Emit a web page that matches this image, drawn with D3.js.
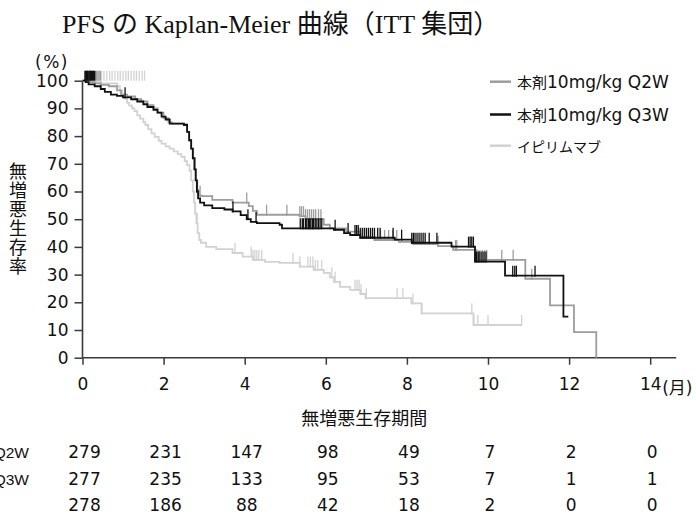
<!DOCTYPE html>
<html><head><meta charset="utf-8">
<script src="https://cdn.jsdelivr.net/npm/d3@7"></script>
<style>
html,body{margin:0;padding:0;background:#fff;}
svg{display:block;}
text{font-family:"DejaVu Sans","Noto Sans CJK JP",sans-serif;fill:#111;}
</style></head>
<body><svg id="c" width="696" height="519"></svg>
<script>
// ---------------- data ----------------
const titleParts = ["PFS ", "の", " Kaplan-Meier ", "曲線", "（", "ITT ", "集団", "）"];
const yLabel = "無増悪生存率";
const xLabel = "無増悪生存期間";
const yUnit = "(%)";
const xUnit = "(月)";
const seriesNames = ["本剤10mg/kg Q2W", "本剤10mg/kg Q3W", "イピリムマブ"];
const monthTicks = [0, 2, 4, 6, 8, 10, 12, 14];
const yTicks = [0, 10, 20, 30, 40, 50, 60, 70, 80, 90, 100];

// Kaplan-Meier steps [month, %]
const q2wCurve = [[0,100],[0.15,99.5],[0.3,99],[0.45,98.5],[0.65,98],[0.85,96.5],[0.95,95],[1.1,94.3],[1.3,93.3],[1.45,92.5],[1.6,91.2],[1.75,90],[1.85,88.5],[2.0,86.5],[2.12,85],[2.2,84.5],[2.5,84.3],[2.58,81.5],[2.63,78.5],[2.68,75.5],[2.73,72],[2.77,68],[2.8,64],[2.83,60.5],[2.87,58.5],[2.95,58.3],[3.2,57],[3.7,56],[4.1,54.7],[4.2,53],[4.3,51.6],[5.35,51.1],[5.5,50],[5.95,48],[6.1,46.7],[6.5,45.5],[6.85,43.5],[7.2,42.5],[7.8,41.8],[8.15,41],[8.77,40.3],[9.14,38.9],[9.7,35.3],[10.92,28.5],[11.53,18.9],[12.12,9.2],[12.67,0]];
const q3wCurve = [[0,100],[0.08,99.5],[0.15,98.7],[0.3,98],[0.45,97],[0.55,96],[0.7,95],[0.85,94.5],[1.0,94],[1.2,93.3],[1.35,92.5],[1.5,91.5],[1.6,90.5],[1.75,89.5],[1.85,88.5],[1.95,87],[2.05,86],[2.15,84.5],[2.5,84],[2.58,81.5],[2.63,78.5],[2.68,75.5],[2.72,72],[2.76,68],[2.79,64],[2.82,60],[2.85,57.5],[2.9,56],[3.0,55],[3.2,54],[3.5,53.5],[3.7,52.8],[3.9,51.5],[4.05,50],[4.15,49],[4.3,48.6],[4.86,48],[4.92,46.7],[6.2,46.2],[6.45,45],[6.6,44.3],[6.85,43.3],[7.7,42.6],[8.12,41.5],[9.1,40.1],[9.68,34.7],[10.42,29.6],[11.86,14.8],[11.98,14.8]];
const ipiCurve = [[0,100],[0.2,99.6],[0.46,99],[0.86,98],[0.92,96.5],[0.98,95],[1.04,93.5],[1.1,92],[1.15,91],[1.22,90],[1.28,89],[1.35,87.5],[1.42,86.3],[1.5,85],[1.55,84],[1.62,82.5],[1.7,81],[1.78,79.7],[1.88,78.3],[1.95,77.3],[2.05,76.3],[2.15,75.5],[2.25,74.5],[2.35,73.5],[2.44,72.5],[2.52,71],[2.58,69.5],[2.64,67.5],[2.68,64],[2.72,60],[2.75,56],[2.78,52],[2.81,48.5],[2.84,45],[2.88,42.5],[2.92,41.5],[3.05,40],[3.3,39.2],[3.7,37.8],[3.95,36.5],[4.2,35.3],[4.5,34.6],[4.86,34.2],[5.36,32.9],[5.7,31.7],[5.95,30.6],[6.1,29],[6.2,27.4],[6.35,25.6],[6.6,24.5],[6.85,23],[6.98,21.5],[8.11,19.6],[8.36,16],[9.64,11.8],[10.83,11.8]];

// censored observations (months), drawn on the curve
const q2wCensor = [2.9,4.05,4.54,5.04,5.36,5.4,5.45,5.5,5.55,5.6,5.65,5.7,5.75,5.82,5.88,7.35,7.45,7.55,7.65,7.75,8.77,9.2,9.23,9.7,9.75,9.8,9.86,9.92,9.97,10.34,10.62,11.08];
const q3wCensor = [1.05,2.82,3.71,4.08,4.28,5.37,5.42,5.45,5.5,5.53,5.57,5.6,5.63,5.67,5.7,5.74,5.78,5.82,5.86,5.9,6.23,6.55,6.72,6.76,6.8,6.85,6.9,6.95,7.0,7.05,7.1,7.15,7.2,7.28,7.34,7.66,7.87,8.12,8.16,8.2,8.25,8.3,8.35,8.4,8.45,8.55,8.74,9.52,9.56,9.6,9.64,9.68,9.72,9.76,9.8,9.85,9.9,9.95,10.61,10.66,10.7,11.16];
const ipiCensor = [2.78,2.83,3.76,4.16,4.2,4.25,4.3,4.35,4.42,5.19,5.36,5.56,5.62,5.68,5.74,5.8,5.9,6.15,6.23,6.72,6.77,6.82,6.87,7.0,7.76,7.9,8.15,8.37,9.6,9.65,9.75,10.0,10.83];
// censored observations drawn along the 100 % line
const q2wCensorTop = [0.32,0.35,0.38,0.41,0.44];
const q3wCensorTop = [0.06,0.08,0.1,0.12,0.14,0.16,0.18,0.2,0.22,0.25,0.27,0.3];
const ipiCensorTop = [0.47,0.53,0.6,0.67,0.73,0.8,0.87,0.93,1.0,1.07,1.13,1.2,1.27,1.33,1.4,1.47,1.53];

// numbers at risk
const riskQ2W = [279,231,147,98,49,7,2,0];
const riskQ3W = [277,235,133,95,53,7,1,1];
const riskIpi = [278,186,88,42,18,2,0,0];

// ---------------- drawing ----------------
const colors = ["#9d9d9d", "#111111", "#d2d2d2"];
const svg = d3.select("#c");
const x = d3.scaleLinear().domain([0, 14]).range([82.5, 650.2]);
const y = d3.scaleLinear().domain([0, 100]).range([357.7, 80.7]);
const isCjk = s => /[\u3000-\u9fff\uff00-\uffef]/.test(s);

function mixedText(sel, str, cjkSize, latinSize, latinFamily) {
  const parts = str.split(/([\u3000-\u9fff\uff00-\uffef]+)/).filter(s => s.length);
  parts.forEach(p => {
    const ts = sel.append("tspan").style("font-size", (isCjk(p) ? cjkSize : latinSize) + "px").text(p);
    if (!isCjk(p) && latinFamily) ts.style("font-family", latinFamily);
  });
}

// title
const tt = svg.append("text").attr("x", 62).attr("y", 33);
titleParts.forEach(p => {
  const ts = tt.append("tspan").text(p).style("font-size", "26px");
  ts.style("font-family", isCjk(p) ? '"Noto Sans CJK JP",sans-serif' : '"Liberation Serif","Times New Roman",serif');
});

// axes
const axisColor = "#3a3a3a";
const yAxis = svg.append("g").attr("transform", `translate(${x(0)},0)`)
  .call(d3.axisLeft(y).tickValues(yTicks).tickSize(8).tickSizeOuter(0).tickPadding(6));
yAxis.select(".domain").remove();
yAxis.append("line").attr("x1", 0).attr("x2", 0).attr("y1", y(0)).attr("y2", y(100))
  .attr("stroke", axisColor).attr("stroke-width", 1.6);
yAxis.selectAll(".tick line").attr("stroke", axisColor).attr("stroke-width", 1.5);
yAxis.selectAll(".tick text").style("font-size", "17px").style("font-family", '"DejaVu Sans",sans-serif').attr("fill", "#111");

const xAxis = svg.append("g").attr("transform", `translate(0,${y(0)})`)
  .call(d3.axisBottom(x).tickValues(monthTicks).tickSize(7).tickSizeOuter(0).tickPadding(13));
xAxis.select(".domain").remove();
xAxis.append("line").attr("x1", x(0)).attr("x2", x(14) + 26).attr("y1", 0).attr("y2", 0)
  .attr("stroke", axisColor).attr("stroke-width", 1.6);
xAxis.selectAll(".tick line").attr("stroke", axisColor).attr("stroke-width", 1.5);
xAxis.selectAll(".tick text").style("font-size", "17px").style("font-family", '"DejaVu Sans",sans-serif').attr("fill", "#111");
svg.append("text").attr("x", x(14) + 12).attr("y", y(0) + 36)
  .style("font-size", "17px").text(xUnit);

svg.append("text").attr("x", 52).attr("y", 68).attr("text-anchor", "middle")
  .style("font-size", "17px").style("letter-spacing", "1.5px").text(yUnit);

svg.append("text").attr("x", (x(0) + x(14)) / 2 - 2).attr("y", 425).attr("text-anchor", "middle")
  .style("font-size", "18px").text(xLabel);

const yl = svg.append("text").attr("text-anchor", "middle").style("font-size", "18px");
yLabel.split("").forEach((ch, i) => {
  yl.append("tspan").attr("x", 18).attr("y", 178 + i * 19).text(ch);
});

// curves
const curves = [q2wCurve, q3wCurve, ipiCurve];
const censors = [q2wCensor, q3wCensor, ipiCensor];
const censorsTop = [q2wCensorTop, q3wCensorTop, ipiCensorTop];
const line = d3.line().x(d => x(d[0])).y(d => y(d[1])).curve(d3.curveStepAfter);
function survAt(curve, t) {
  let s = curve[0][1];
  for (const p of curve) { if (p[0] <= t) s = p[1]; else break; }
  return s;
}
const order = [2, 0, 1];
order.forEach(i => {
  const g = svg.append("g");
  g.append("path").datum(curves[i]).attr("d", line).attr("fill", "none")
    .attr("stroke", colors[i]).attr("stroke-width", 1.8);
  g.selectAll("line.c").data(censors[i]).join("line")
    .attr("x1", t => x(t)).attr("x2", t => x(t))
    .attr("y1", t => y(survAt(curves[i], t)) + 1).attr("y2", t => y(survAt(curves[i], t)) - 10)
    .attr("stroke", colors[i]).attr("stroke-width", 1.3);
  g.selectAll("line.t").data(censorsTop[i]).join("line")
    .attr("x1", t => x(t)).attr("x2", t => x(t))
    .attr("y1", y(100)).attr("y2", y(100) - 10)
    .attr("stroke", colors[i]).attr("stroke-width", 1.3);
});

// legend
const legendY = [81.7, 114.5, 145.7];
seriesNames.forEach((name, i) => {
  svg.append("line").attr("x1", 490).attr("x2", 511).attr("y1", legendY[i]).attr("y2", legendY[i])
    .attr("stroke", colors[i]).attr("stroke-width", 2.5);
  const t = svg.append("text").attr("x", 517).attr("y", legendY[i] + 6);
  mixedText(t, name, i === 2 ? 14 : 15, 17);
});

// numbers at risk (row labels share a left edge; the long ones end at x = 29)
const risks = [riskQ2W, riskQ3W, riskIpi];
const rowY = [457.5, 484.5, 511];
const labels = risks.map((row, r) => {
  const t = svg.append("text").attr("y", rowY[r]);
  mixedText(t, seriesNames[r], 15, 15.5, '"Liberation Sans",Arial,sans-serif');
  return t;
});
const labelW = labels[0].node().getComputedTextLength();
labels.forEach(t => t.attr("x", 29 - labelW));
risks.forEach((row, r) => {
  svg.selectAll(null).data(row).join("text")
    .attr("x", (d, k) => x(monthTicks[k]) + 2).attr("y", rowY[r])
    .attr("text-anchor", "middle").style("font-size", "17px").text(d => d);
});
</script></body></html>
